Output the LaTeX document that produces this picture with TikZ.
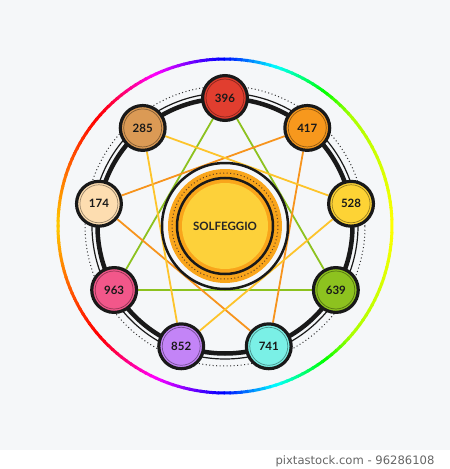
\documentclass[tikz,border=0pt]{standalone}
\usepackage{fontspec}
\setmainfont{Lato}
\newfontfamily\footfont{DejaVu Sans}

\definecolor{bg}{HTML}{F5F7F9}
\definecolor{c396}{HTML}{E13E2F}
\definecolor{c417}{HTML}{F7981D}
\definecolor{c528}{HTML}{FDD335}
\definecolor{c639}{HTML}{8DC21F}
\definecolor{c741}{HTML}{7AF0E6}
\definecolor{c852}{HTML}{C384F7}
\definecolor{c963}{HTML}{F2578A}
\definecolor{c174}{HTML}{FDDDB0}
\definecolor{c285}{HTML}{DB9A55}
\definecolor{lgreen}{HTML}{8DC21F}
\definecolor{lorange}{HTML}{F7941D}
\definecolor{lyellow}{HTML}{FDC42B}
\definecolor{corange}{HTML}{F9A51B}
\definecolor{cyellow}{HTML}{FDD13A}

\pgfdeclarelayer{bg}
\pgfdeclarelayer{lines}
\pgfsetlayers{bg,lines,main}

\tikzset{
  freq/.style={circle, draw=black!90, line width=3.2pt, minimum size=44.8pt, inner sep=0pt,
    font=\fontsize{11.5}{12}\selectfont\bfseries, text=black!90},
  link/.style={line width=1.8pt},
}

\begin{document}
\begin{tikzpicture}[x=1pt,y=1pt]
\useasboundingbox (-225,-243) rectangle (225,226);
\begin{pgfonlayer}{bg}
\fill[white] (-225,-243) rectangle (225,226);
\fill[bg] (-225,-224) rectangle (225,226);
\foreach \a in {0,2,...,178}{
  \pgfmathsetmacro\h{60+0.5*min(\a,40)+3.2*max(0,min(\a,90)-40)+2.5556*max(0,min(\a,135)-90)+1.2*max(0,\a-135)}
  \pgfmathsetmacro\h{mod(\h,360)}
  \pgfmathsetmacro\rr{max(0,min(1,abs(\h/60-3)-1))}
  \pgfmathsetmacro\gg{max(0,min(1,2-abs(\h/60-2)))}
  \pgfmathsetmacro\bb{max(0,min(1,2-abs(\h/60-4)))}
  \definecolor{rb}{rgb}{\rr,\gg,\bb}
  \draw[rb,line width=3pt] (\a:167) arc[start angle=\a,end angle=\a+2.5,radius=167pt];
  \draw[rb,line width=3pt] (-\a:167) arc[start angle=-\a,end angle=-\a-2.5,radius=167pt];
}
\draw[line width=4.5pt, black!90] (0,0) circle[radius=127.5pt];
\draw[line width=1.2pt, black!90] (0,0) circle[radius=133pt];
\draw[line width=1pt, black!80, dash pattern=on 1pt off 2.5pt] (0,0) circle[radius=140pt];
\end{pgfonlayer}

\foreach \v/\ang in {396/90,417/50,528/10,639/-30,741/-70,852/-110,963/-150,174/170,285/130}{
  \node[freq, fill=c\v] (n\v) at (\ang:128) {\v};
  \draw[line width=0.7pt, c\v!60!black] (n\v) circle[radius=19pt];
}

\begin{pgfonlayer}{lines}
\draw[link, lgreen] (n396) -- (n639) -- (n963) -- (n396);
\draw[link, lorange] (n417) -- (n741) -- (n174) -- (n417);
\draw[link, lyellow] (n285) -- (n528) -- (n852) -- (n285);
\end{pgfonlayer}

\node[circle, draw=black!90, line width=2.5pt, fill=bg, minimum size=126pt] (ctr) at (0,0) {};
\fill[corange] (ctr) circle[radius=57pt];
\draw[line width=1pt, brown!50!black, dash pattern=on 1pt off 2.5pt] (ctr) circle[radius=53pt];
\draw[line width=2.5pt, black!90, fill=corange] (ctr) circle[radius=48pt];
\node[circle, fill=cyellow, minimum size=86pt, font=\fontsize{11.5}{12}\selectfont\bfseries, text=black!85] (sol) at (ctr) {SOLFEGGIO};

\node[anchor=east, font=\footfont\fontsize{11.6}{13}\selectfont, text=black!60] (credit) at (213,-235.5) {pixtastock.com - 96286108};
\end{tikzpicture}
\end{document}
